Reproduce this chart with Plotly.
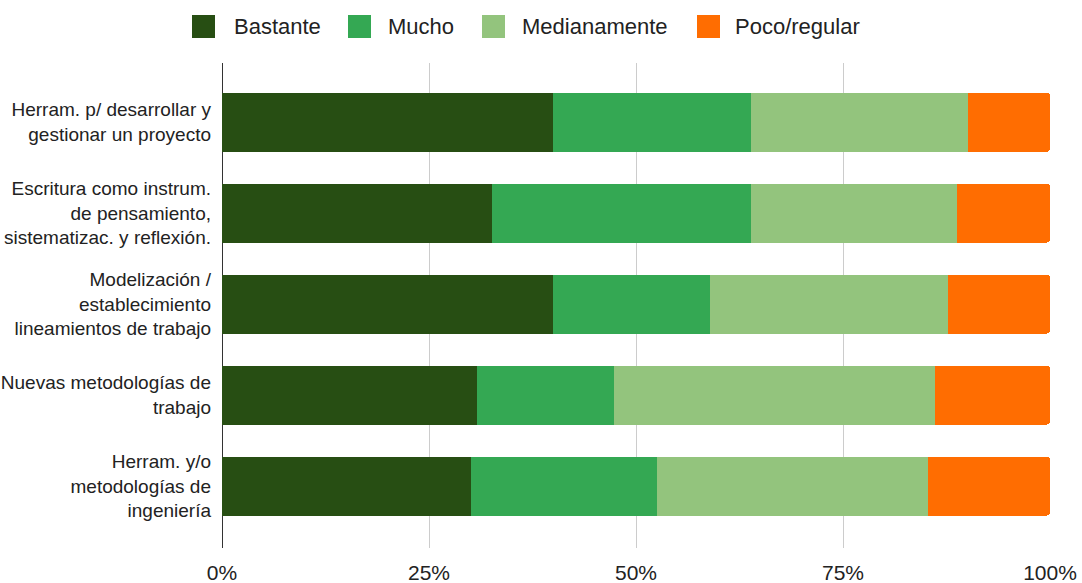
import plotly.graph_objects as go

categories = [
    "Herram. p/ desarrollar y<br>gestionar un proyecto",
    "Escritura como instrum.<br>de pensamiento,<br>sistematizac. y reflexión.",
    "Modelización /<br>establecimiento<br>lineamientos de trabajo",
    "Nuevas metodologías de<br>trabajo",
    "Herram. y/o<br>metodologías de<br>ingeniería",
]
bastante = [40.0, 32.6, 40.0, 30.8, 30.1]
mucho = [23.9, 31.3, 18.9, 16.5, 22.4]
medianamente = [26.2, 24.9, 28.8, 38.8, 32.8]
poco_regular = [9.9, 11.2, 12.3, 13.9, 14.7]

series_names = ["Bastante", "Mucho", "Medianamente", "Poco/regular"]
series_values = [bastante, mucho, medianamente, poco_regular]
series_colors = ["#274e13", "#34a853", "#93c47d", "#ff6d01"]

FONT = "Liberation Sans, Arial, sans-serif"
W, H = 1082, 583
ML, MR, MT, MB = 222, 32, 63, 35
PW, PH = W - ML - MR, H - MT - MB


def px_x(px):
    return (px - ML) / PW


def px_y(py):
    return (H - MB - py) / PH


fig = go.Figure()
for name, vals, color in zip(series_names, series_values, series_colors):
    fig.add_trace(go.Bar(
        y=categories, x=vals, name=name, orientation="h",
        marker=dict(color=color, line=dict(width=0)),
        width=0.65, showlegend=False,
    ))

# manual legend (large rounded squares as in the reference)
legend_square_x = [192, 348, 482, 697]
legend_text_x = [232, 386, 520, 733]
shapes = []
annotations = []
for name, color, sx, tx in zip(series_names, series_colors, legend_square_x, legend_text_x):
    shapes.append(dict(
        type="rect", xref="paper", yref="paper",
        x0=px_x(sx), x1=px_x(sx + 23), y0=px_y(38), y1=px_y(15),
        fillcolor=color, line=dict(width=0), layer="above",
    ))
    annotations.append(dict(
        text=name, xref="paper", yref="paper", x=px_x(tx), y=px_y(26.5),
        xanchor="left", yanchor="middle", showarrow=False,
        font=dict(size=22, color="#222222", family=FONT),
    ))

fig.update_layout(
    barmode="stack",
    barcornerradius=4,
    width=W, height=H,
    margin=dict(l=ML, r=MR, t=MT, b=MB, autoexpand=False),
    paper_bgcolor="white", plot_bgcolor="white",
    font=dict(family=FONT, color="#222222"),
    showlegend=False,
    shapes=shapes,
    annotations=annotations,
)
fig.update_xaxes(
    range=[0, 100], tickvals=[0, 25, 50, 75, 100],
    ticktext=["0%", "25%", "50%", "75%", "100%"],
    showgrid=True, gridcolor="#cccccc", gridwidth=1,
    zeroline=True, zerolinecolor="#333333", zerolinewidth=1,
    tickfont=dict(size=21, color="#222222"), showline=False,
    ticklabelstandoff=10, automargin=False,
)
fig.update_yaxes(
    range=[4.68, -0.65], type="category",
    showgrid=False, zeroline=False, showline=False,
    tickfont=dict(size=19, color="#222222"),
    ticklabelstandoff=10, automargin=False,
)

fig.write_html("out.html")
